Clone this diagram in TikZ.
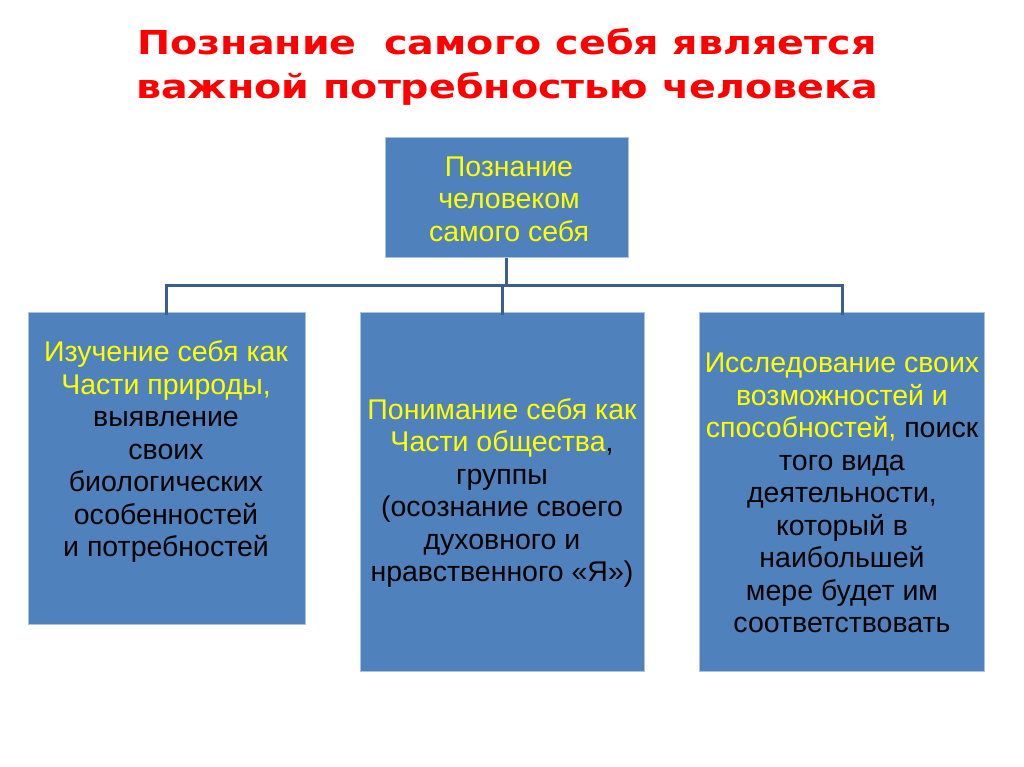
\documentclass[tikz,border=0pt]{standalone}
\usepackage{fontspec}
\setmainfont{Liberation Sans}
\newfontfamily\titlefont[FakeStretch=1.2]{DejaVu Sans}
\definecolor{boxblue}{HTML}{4F81BD}
\definecolor{boxedge}{HTML}{A9C2E0}
\definecolor{linkblue}{HTML}{3A5F8F}
\definecolor{titlered}{HTML}{FF0000}
\definecolor{txtyellow}{HTML}{FFFF00}
\begin{document}
\begin{tikzpicture}[x=1pt,y=-1pt,
  box/.style={draw=boxedge,line width=0.8pt,fill=boxblue,inner sep=0pt,anchor=north west},
  boxtext/.style={align=center,font=\fontsize{28.5}{32.5}\selectfont,inner sep=0pt,text=black},
  link/.style={draw=linkblue,line width=3pt},
  titletext/.style={font=\titlefont\bfseries\fontsize{33}{44}\selectfont,text=titlered,align=center,inner sep=0pt}]
\useasboundingbox (0,0) rectangle (1024,767);
% title
\node[titletext] (title) at (507,67) {Познание \ самого себя является\\важной потребностью человека};
% boxes
\node[box,minimum width=243pt,minimum height=120pt] (top) at (385,137) {};
\node[box,minimum width=277pt,minimum height=312pt] (left) at (28,312) {};
\node[box,minimum width=284pt,minimum height=359pt] (mid) at (360,312) {};
\node[box,minimum width=285pt,minimum height=359pt] (right) at (699,312) {};
% texts
\node[boxtext,text=txtyellow] (toptext) at (509,199) {Познание\\человеком\\самого себя};
\node[boxtext] (lefttext) at (166,452) {\textcolor{txtyellow}{Изучение себя как}\\\textcolor{txtyellow}{Части природы,}\\выявление\\своих\\биологических\\особенностей\\и потребностей};
\node[boxtext] (midtext) at (502,493) {\textcolor{txtyellow}{Понимание себя как}\\\textcolor{txtyellow}{Части общества},\\группы\\(осознание своего\\духовного и\\нравственного «Я»)};
\node[boxtext] (righttext) at (842,493) {\textcolor{txtyellow}{Исследование своих}\\\textcolor{txtyellow}{возможностей и}\\\textcolor{txtyellow}{способностей,} поиск\\того вида\\деятельности,\\который в\\наибольшей\\мере будет им\\соответствовать};
% connectors
\coordinate (bus) at (506,285);
\coordinate (busL) at (166,285);
\coordinate (busM) at (502,285);
\coordinate (busR) at (842,285);
\draw[link] ([yshift=-0.5pt]top.south -| bus) -- (bus);
\draw[link,line cap=rect] (busL) -- (busR);
\draw[link] (busL) -- ([yshift=-3pt]left.north -| busL);
\draw[link] (busM) -- ([yshift=-3pt]mid.north -| busM);
\draw[link] (busR) -- ([yshift=-3pt]right.north -| busR);
\end{tikzpicture}
\end{document}
